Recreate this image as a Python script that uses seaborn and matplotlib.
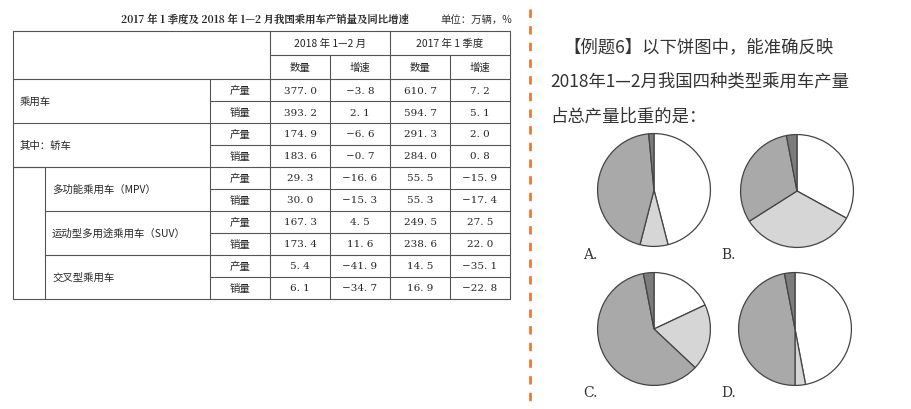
import matplotlib.pyplot as plt
import seaborn as sns

sns.set_style("white")
plt.rcParams['font.family'] = ['Noto Sans CJK SC', 'DejaVu Sans']

row_names = ['乘用车', '其中：轿车', '多功能乘用车（MPV）', '运动型多用途乘用车（SUV）', '交叉型乘用车']
qty_2018 = [377.0, 393.2, 174.9, 183.6, 29.3, 30.0, 167.3, 173.4, 5.4, 6.1]
gr_2018 = [-3.8, 2.1, -6.6, -0.7, -16.6, -15.3, 4.5, 11.6, -41.9, -34.7]
qty_2017 = [610.7, 594.7, 291.3, 284.0, 55.5, 55.3, 249.5, 238.6, 14.5, 16.9]
gr_2017 = [7.2, 5.1, 2.0, 0.8, -15.9, -17.4, 27.5, 22.0, -35.1, -22.8]

pie_labels = ['A.', 'B.', 'C.', 'D.']
pie_shares = [
    [46, 8, 44.5, 1.5],
    [33, 33, 31, 3],
    [18, 19, 60, 3],
    [47, 3, 47, 3],
]
pie_colors = ['#ffffff', '#d6d6d6', '#a9a9a9', '#7c7c7c']

W, H = 911, 410
fig = plt.figure(figsize=(9.11, 4.10), dpi=100)
ax = fig.add_axes([0, 0, 1, 1])
ax.set_xlim(0, W)
ax.set_ylim(H, 0)
ax.axis('off')

lc = '#555555'
lw = 0.8
ser = 'DejaVu Serif'
ax.text(265, 20, '2017 年 1 季度及 2018 年 1—2 月我国乘用车产销量及同比增速', ha='center', va='center',
        fontsize=7.5, fontweight='bold', family=['Noto Serif CJK SC', 'Noto Sans CJK SC'])
ax.text(512, 20, '单位：万辆，%', ha='right', va='center', fontsize=7.5, color='#333333')

x0, x1 = 13, 510
top, h1, h2 = 32, 56, 80
rh = 22
ax.plot([x0, x1, x1, x0, x0], [top, top, 300, 300, top], color=lc, lw=lw)
ax.plot([270, x1], [h1, h1], color=lc, lw=lw)
ax.plot([x0, x1], [h2, h2], color=lc, lw=lw)
ax.plot([270, 270], [top, 300], color=lc, lw=lw)
ax.plot([390, 390], [top, 300], color=lc, lw=lw)
for c in [330, 450]:
    ax.plot([c, c], [h1, 300], color=lc, lw=lw)
ax.plot([210, 210], [h2, 300], color=lc, lw=lw)
ax.plot([45, 45], [h2 + 4 * rh, 300], color=lc, lw=lw)
for g in range(5):
    y = h2 + 2 * g * rh
    ax.plot([210, x1], [y + rh, y + rh], color=lc, lw=lw)
    if g > 0:
        ax.plot([x0 if g < 3 else 45, x1], [y, y], color=lc, lw=lw)
ax.plot([x0, 45], [h2 + 4 * rh, h2 + 4 * rh], color=lc, lw=lw)

fs = 7.5
ax.text(330, 44, '2018 年 1—2 月', ha='center', va='center', fontsize=fs)
ax.text(450, 44, '2017 年 1 季度', ha='center', va='center', fontsize=fs)
for cx, t in zip([300, 360, 420, 480], ['数量', '增速', '数量', '增速']):
    ax.text(cx, 68, t, ha='center', va='center', fontsize=fs)
for g, name in enumerate(row_names):
    y = h2 + 2 * g * rh
    ax.text(20 if g < 2 else 52, y + rh, name, ha='left', va='center', fontsize=fs)
    for k, lab in enumerate(['产量', '销量']):
        i = 2 * g + k
        yy = y + rh * k + rh / 2
        ax.text(240, yy, lab, ha='center', va='center', fontsize=fs)
        for cx, v in zip([300, 360, 420, 480], [qty_2018[i], gr_2018[i], qty_2017[i], gr_2017[i]]):
            s = f'{v:.1f}'.replace('.', '. ').replace('-', '−')
            ax.text(cx, yy, s, ha='center', va='center', fontsize=fs, family=ser)

ax.plot([530, 530], [10, 410], color='#f07830', lw=2, ls=(0, (3, 3)))

ax.text(563, 47, '【例题6】以下饼图中，能准确反映', ha='left', va='center', fontsize=12.5, color='#333333')
ax.text(550, 82, '2018年1—2月我国四种类型乘用车产量', ha='left', va='center', fontsize=12.5, color='#333333')
ax.text(550, 117, '占总产量比重的是：', ha='left', va='center', fontsize=12.5, color='#333333')

centers = [(654, 191), (797, 192), (654, 330), (795, 330)]
label_pos = [(583, 255), (721, 255), (583, 393), (721, 393)]
r = 57
for (cx, cy), shares, lab, (lx, ly) in zip(centers, pie_shares, pie_labels, label_pos):
    pax = fig.add_axes([(cx - r) / W, 1 - (cy + r) / H, 2 * r / W, 2 * r / H])
    pax.pie(shares, colors=pie_colors, startangle=90, counterclock=False,
            wedgeprops=dict(edgecolor='#444444', linewidth=0.9))
    pax.set_xlim(-1.01, 1.01)
    pax.set_ylim(-1.01, 1.01)
    pax.set_aspect('auto')
    ax.text(lx, ly, lab, ha='left', va='center', fontsize=10, family=ser, color='#333333')

plt.savefig('out.png', dpi=100)
plt.close()
